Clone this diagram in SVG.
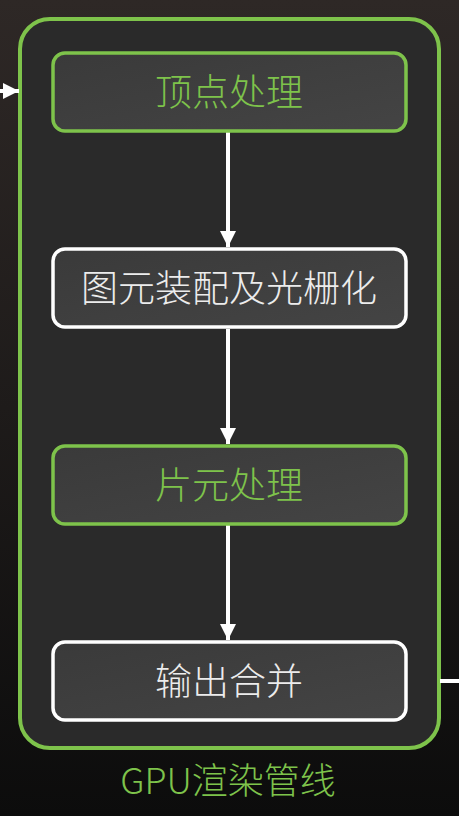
<svg xmlns="http://www.w3.org/2000/svg" width="459" height="816" viewBox="0 0 459 816">
<defs>
<linearGradient id="bg" x1="0" y1="0" x2="0" y2="1">
<stop offset="0" stop-color="#2e2826"/>
<stop offset="0.5" stop-color="#1e1b1a"/>
<stop offset="1" stop-color="#0c0c0c"/>
</linearGradient>
<linearGradient id="nodefill" x1="0" y1="0" x2="1" y2="1">
<stop offset="0" stop-color="#3a3a3a"/>
<stop offset="1" stop-color="#444444"/>
</linearGradient>
<marker id="ah" viewBox="0 0 16 16" refX="16" refY="8" markerWidth="16" markerHeight="16" orient="auto" markerUnits="userSpaceOnUse">
<path d="M0,0 L16,8 L0,16 z" fill="#ffffff"/>
</marker>
</defs>
<style>
.node rect{fill:url(#nodefill);stroke-width:3.5}
.g rect{stroke:#7ec34b}
.w rect{stroke:#ffffff}
.lbl{font-family:"Noto Sans CJK SC","Noto Sans",sans-serif;font-size:37px;font-weight:300;text-anchor:middle}
.g text{fill:#7ec34b}
.w text{fill:#ececec}
.conn line{stroke:#ffffff;stroke-width:4}
</style>
<rect width="459" height="816" fill="url(#bg)"/>
<g id="pipeline">
<rect x="20" y="19" width="419" height="729" rx="30" fill="#2a2a2a" stroke="#7ec34b" stroke-width="4"/>
<text x="228" y="794" font-family="'Noto Sans CJK SC','Noto Sans',sans-serif" font-size="36" font-weight="300" fill="#7ec34b" text-anchor="middle">GPU渲染管线</text>
</g>
<g id="connectors" class="conn">
<line x1="0" y1="91" x2="19" y2="91" marker-end="url(#ah)"/>
<line x1="228" y1="132" x2="228" y2="247" marker-end="url(#ah)"/>
<line x1="228" y1="329" x2="228" y2="444" marker-end="url(#ah)"/>
<line x1="228" y1="525" x2="228" y2="640" marker-end="url(#ah)"/>
<line x1="440" y1="681" x2="459" y2="681"/>
</g>
<g id="vertex" class="node g">
<rect x="53" y="53" width="353" height="78" rx="12"/>
<text class="lbl" x="229" y="106">顶点处理</text>
</g>
<g id="raster" class="node w">
<rect x="53" y="249" width="353" height="78" rx="12"/>
<text class="lbl" x="229" y="302">图元装配及光栅化</text>
</g>
<g id="fragment" class="node g">
<rect x="53" y="446" width="353" height="78" rx="12"/>
<text class="lbl" x="229" y="499">片元处理</text>
</g>
<g id="output" class="node w">
<rect x="53" y="642" width="353" height="78" rx="12"/>
<text class="lbl" x="229" y="695">输出合并</text>
</g>
</svg>
